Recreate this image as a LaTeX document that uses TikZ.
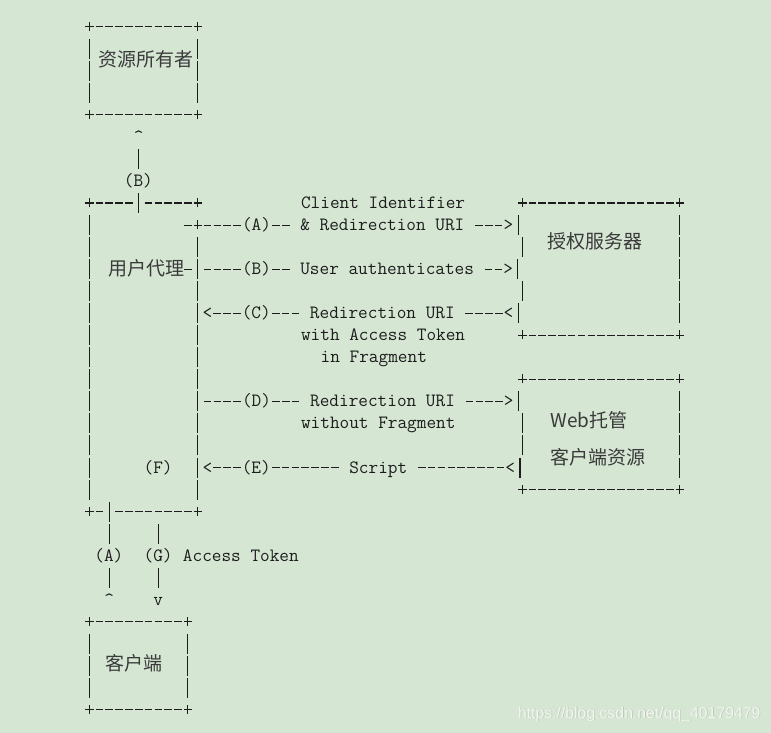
\documentclass[tikz,border=0pt]{standalone}
\usepackage{fontspec}
\newfontfamily\cjk{Noto Sans CJK SC}
\newfontfamily\wmfont{Liberation Sans}
% ASCII-art strokes: one character cell is 9.84pt wide
\newcommand\HD{\makebox[9.84pt]{\rule[4.95pt]{7.6pt}{1.1pt}}}
\newcommand\VB{\makebox[9.84pt]{\rule[-4.5pt]{1.1pt}{20pt}}}
\newcommand\PL{\makebox[9.84pt]{\hbox to 0pt{\hss\rule[4.95pt]{8.4pt}{1.1pt}\hss}\hbox to 0pt{\hss\rule[1.5pt]{1.1pt}{9pt}\hss}}}
\ExplSyntaxOn
\cs_new:Npn \DR #1 { \prg_replicate:nn {#1} { \HD } }
\ExplSyntaxOff
\definecolor{bg}{HTML}{D5E6D3}
\definecolor{asctext}{HTML}{1C1C1C}
\definecolor{cntext}{HTML}{3A3A3A}
\definecolor{wmtext}{HTML}{F3F6F1}
\definecolor{wmshadow}{HTML}{BCC9BA}
\tikzset{
  ascii/.style={font=\ttfamily\fontsize{18.74}{22}\selectfont, text=asctext,
    inner sep=0pt, outer sep=0pt, anchor=base west},
  cn/.style={font=\cjk\fontsize{19}{21}\selectfont, text=cntext,
    inner sep=0pt, outer sep=0pt, anchor=center},
  wm/.style={font=\wmfont\fontsize{15.8}{17}\selectfont,
    inner sep=0pt, outer sep=0pt, anchor=west}
}
% #1 name, #2 column, #3 row, #4 text
\newcommand\asc[4]{\node[ascii] (#1) at ({35.38+9.84*#2},{26.7+22.04*#3+5.5}) {#4};}
\begin{document}
\begin{tikzpicture}[x=1pt,y=-1pt]
\fill[bg] (0,0) rectangle (771,733);
\useasboundingbox (0,0) rectangle (771,733);

% Resource owner box
\asc{o0}{5}{0}{\PL\DR{10}\PL}
\foreach \r in {1,2,3} {\asc{ol\r}{5}{\r}{\VB}\asc{or\r}{16}{\r}{\VB}}
\asc{o4}{5}{4}{\PL\DR{10}\PL}
\asc{b5}{10}{5}{\textasciicircum}
\asc{b6}{10}{6}{\VB}
\asc{b7}{9}{7}{(B)}

% Row 8
\asc{u8}{5}{8}{\PL\DR{4}\VB\DR{5}\PL}
\asc{ci8}{27}{8}{Client Identifier}
\asc{s8}{49}{8}{\PL\DR{15}\PL}
% Row 9
\asc{u9}{5}{9}{\VB}
\asc{a9}{15}{9}{\HD\PL\DR{4}(A)\DR{2}\ \&\ Redirection URI\ \DR{3}>\VB}
\asc{s9}{65}{9}{\VB}
% Row 10
\asc{ul10}{5}{10}{\VB}\asc{ur10}{16}{10}{\VB}\asc{sl10}{49}{10}{\VB}\asc{sr10}{65}{10}{\VB}
% Row 11
\asc{u11}{5}{11}{\VB}
\asc{b11}{15}{11}{\HD\VB\DR{4}(B)\DR{2}\ User authenticates\ \DR{2}>\VB}
\asc{s11}{65}{11}{\VB}
% Row 12
\asc{ul12}{5}{12}{\VB}\asc{ur12}{16}{12}{\VB}\asc{sl12}{49}{12}{\VB}\asc{sr12}{65}{12}{\VB}
% Row 13
\asc{u13}{5}{13}{\VB}
\asc{c13}{16}{13}{\VB<\DR{3}(C)\DR{3}\ Redirection URI\ \DR{4}<\VB}
\asc{s13}{65}{13}{\VB}
% Row 14
\asc{ul14}{5}{14}{\VB}\asc{ur14}{16}{14}{\VB}
\asc{c14}{27}{14}{with Access Token}
\asc{s14}{49}{14}{\PL\DR{15}\PL}
% Row 15
\asc{ul15}{5}{15}{\VB}\asc{ur15}{16}{15}{\VB}
\asc{c15}{29}{15}{in Fragment}
% Row 16
\asc{ul16}{5}{16}{\VB}\asc{ur16}{16}{16}{\VB}
\asc{w16}{49}{16}{\PL\DR{15}\PL}
% Row 17
\asc{u17}{5}{17}{\VB}
\asc{d17}{16}{17}{\VB\DR{4}(D)\DR{3}\ Redirection URI\ \DR{4}>\VB}
\asc{w17}{65}{17}{\VB}
% Row 18
\asc{ul18}{5}{18}{\VB}\asc{ur18}{16}{18}{\VB}
\asc{d18}{27}{18}{without Fragment}
\asc{wl18}{49}{18}{\VB}\asc{wr18}{65}{18}{\VB}
% Row 19
\asc{ul19}{5}{19}{\VB}\asc{ur19}{16}{19}{\VB}\asc{wl19}{49}{19}{\VB}\asc{wr19}{65}{19}{\VB}
% Row 20
\asc{u20}{5}{20}{\VB}
\asc{f20}{11}{20}{(F)}
\asc{e20}{16}{20}{\VB<\DR{3}(E)\DR{7}\ Script\ \DR{9}<\VB}
\asc{w20}{65}{20}{\VB}
% Row 21
\asc{ul21}{5}{21}{\VB}\asc{ur21}{16}{21}{\VB}
\asc{w21}{49}{21}{\PL\DR{15}\PL}
% Row 22
\asc{u22}{5}{22}{\PL\HD\VB\DR{8}\PL}
% Rows 23-26
\asc{al23}{7}{23}{\VB}\asc{gl23}{12}{23}{\VB}
\asc{a24}{6}{24}{(A)}\asc{g24}{11}{24}{(G)}\asc{t24}{15}{24}{Access Token}
\asc{al25}{7}{25}{\VB}\asc{gl25}{12}{25}{\VB}
\asc{a26}{7}{26}{\textasciicircum}\asc{g26}{12}{26}{v}
% Client box
\asc{k27}{5}{27}{\PL\DR{9}\PL}
\foreach \r in {28,29,30} {\asc{kl\r}{5}{\r}{\VB}\asc{kr\r}{15}{\r}{\VB}}
\asc{k31}{5}{31}{\PL\DR{9}\PL}

% Chinese labels
\node[cn] (owner) at (145.5,59) {资源所有者};
\node[cn] (agent) at (146,268) {用户代理};
\node[cn] (auth) at (595,241) {授权服务器};
\node[cn] (web) at (589,420) {Web托管};
\node[cn] (webres) at (598,457) {客户端资源};
\node[cn] (client) at (134,663) {客户端};

% watermark
\node[wm, text=wmshadow] (wms) at (518.8,714.8) {https://blog.csdn.net/qq\_40179479};
\node[wm, text=wmtext] (wmk) at (518,714) {https://blog.csdn.net/qq\_40179479};
\end{tikzpicture}
\end{document}
